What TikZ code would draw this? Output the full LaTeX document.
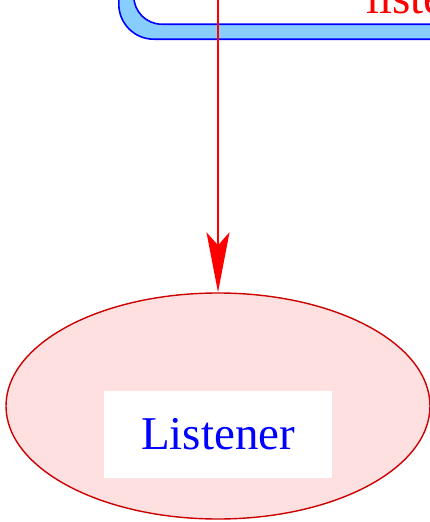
\documentclass[tikz,border=0pt]{standalone}
\usepackage{fontspec}
\setmainfont{Liberation Serif}
\definecolor{frameblue}{RGB}{0,0,255}
\definecolor{framefill}{RGB}{135,206,255}
\definecolor{linkred}{RGB}{255,0,0}
\definecolor{ovalred}{RGB}{204,0,0}
\definecolor{ovalfill}{RGB}{255,224,224}
\usetikzlibrary{arrows.meta,positioning,shapes.geometric}
\tikzset{
  outerframe/.style={draw=frameblue, fill=#1, line width=1.6pt, rounded corners=35pt,
                     minimum width=420pt, minimum height=120pt, anchor=south west},
  innerframe/.style={draw=frameblue, fill=white, line width=1.6pt, rounded corners=28pt,
                     minimum width=400pt, minimum height=100pt, anchor=south west},
  oval/.style={ellipse, draw=ovalred, fill=ovalfill, line width=1.4pt,
               minimum width=424pt, minimum height=226pt, inner sep=0pt},
  tag/.style={fill=white, text=frameblue, font=\fontsize{47}{50}\selectfont,
              minimum width=228pt, minimum height=87pt, inner sep=0pt},
  link/.style={draw=linkred, line width=1.6pt,
               -{Stealth[length=60pt, width=23pt, inset=13pt]}},
}
\begin{document}
\begin{tikzpicture}[x=1pt, y=-1pt]
\useasboundingbox (0,0) rectangle (430,522);
% Frame at the top (cut off)
\node[outerframe=framefill] (frame) at (118,40) {};
\node[innerframe] (inner) at (133,25) {};
\node[anchor=base west, text=linkred, font=\fontsize{47}{50}\selectfont, inner sep=0pt] (call) at (366,13) {liste};
% Listener
\node[oval] (listener) at (218,406) {};
\node[tag] (name) at (218,434.5) {Listener};
% Connector
\coordinate (start) at (218,-20);
\draw[link] (start) -- (listener.north);
\end{tikzpicture}
\end{document}
